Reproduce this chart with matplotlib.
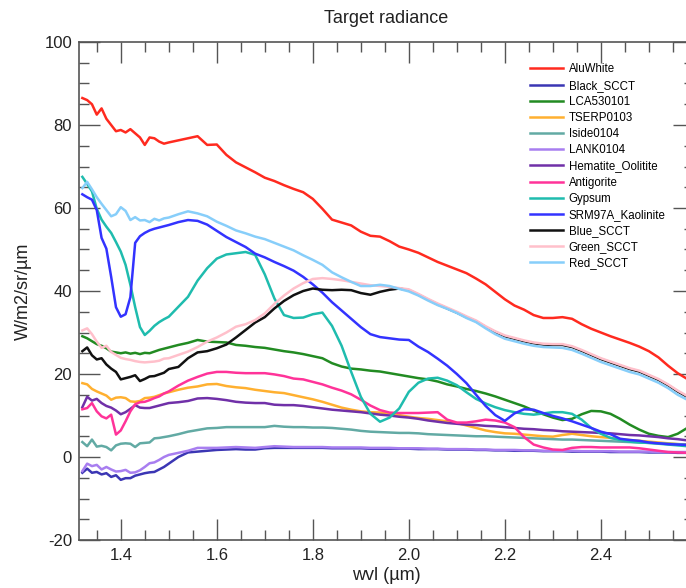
import numpy as np
import matplotlib
matplotlib.use("Agg")
import matplotlib.pyplot as plt
from matplotlib.ticker import MultipleLocator

plt.rcParams['font.family'] = ['Liberation Sans', 'DejaVu Sans']
plt.rcParams['axes.unicode_minus'] = False

# wavelength grid (um)
wvl = np.round(np.concatenate([np.arange(1.32, 1.505, 0.01),
                               np.arange(1.52, 2.565, 0.02),
                               [2.58]]), 3)

alu_white = [86.5, 86.0, 85.0, 82.5, 84.0, 81.5, 80.0, 78.5, 78.8, 78.2, 79.0, 78.0, 77.0, 75.2, 77.0, 76.8, 76.0, 75.5, 75.8,
             76.3, 76.8, 77.3, 75.2, 75.3, 72.8, 71.0, 69.8, 68.6, 67.3,
             66.5, 65.5, 64.6, 63.8, 62.2, 59.8, 57.2, 56.5, 55.8, 54.3,
             53.3, 53.1, 52.0, 50.7, 50.0, 49.2, 48.1, 47.0, 46.1, 45.2,
             44.3, 43.0, 41.6, 39.8, 38.0, 36.5, 35.5, 34.2, 33.5, 33.5,
             33.7, 33.3, 32.0, 30.9, 30.0, 29.1, 28.3, 27.5, 26.6, 25.5,
             24.0, 22.0, 20.2, 18.8]

black_scct = [-3.8, -2.8, -3.8, -3.6, -4.2, -3.9, -4.8, -4.4, -5.5, -5.1, -5.1, -4.5, -4.2, -3.9, -3.7, -3.6, -3.0, -2.4, -1.6,
              0.0, 1.1, 1.3, 1.5, 1.7, 1.8, 1.9, 1.8, 1.8, 2.1,
              2.2, 2.2, 2.2, 2.2, 2.2, 2.2, 2.1, 2.1, 2.1, 2.1,
              2.0, 2.0, 2.0, 2.0, 2.0, 1.9, 1.9, 1.9, 1.8, 1.8,
              1.8, 1.7, 1.7, 1.6, 1.6, 1.5, 1.5, 1.5, 1.4, 1.4,
              1.4, 1.3, 1.3, 1.3, 1.3, 1.2, 1.2, 1.2, 1.2, 1.1,
              1.1, 1.1, 1.0, 1.0]

lca530101 = [29.1, 28.6, 27.9, 27.2, 26.8, 26.2, 25.4, 25.2, 25.0, 25.2, 24.9, 25.1, 24.8, 25.1, 25.0, 25.4, 25.8, 26.1, 26.4,
             27.0, 27.5, 28.2, 27.8, 27.7, 27.6, 27.0, 26.8, 26.5, 26.3,
             25.9, 25.5, 25.2, 24.8, 24.3, 23.8, 22.6, 21.8, 21.3, 21.1,
             20.8, 20.6, 20.2, 19.8, 19.4, 19.0, 18.7, 18.2, 17.5, 17.0,
             16.4, 15.9, 15.3, 14.6, 13.8, 13.0, 12.2, 11.2, 10.3, 9.5,
             8.9, 9.2, 10.3, 11.1, 11.0, 10.4, 9.2, 7.8, 6.6, 5.6,
             5.1, 4.8, 5.6, 7.0]

tserp0103 = [17.8, 17.5, 16.4, 15.8, 15.3, 14.8, 13.8, 14.3, 14.4, 14.2, 13.4, 13.3, 13.5, 14.2, 14.3, 14.5, 14.9, 15.3, 15.6,
             16.2, 16.7, 17.0, 17.5, 17.6, 17.1, 16.8, 16.6, 16.2, 15.9,
             15.6, 15.4, 14.9, 14.4, 13.9, 13.3, 12.6, 11.9, 11.4, 11.0,
             10.8, 10.7, 10.5, 10.1, 9.7, 9.4, 9.2, 8.9, 8.6, 8.2,
             7.6, 7.0, 6.4, 6.0, 5.7, 5.6, 5.4, 5.2, 5.0, 4.9,
             5.3, 5.6, 5.3, 5.0, 4.8, 4.6, 4.3, 4.1, 3.9, 3.7,
             3.5, 3.3, 3.1, 3.0]

iside0104 = [3.6, 2.6, 4.2, 2.5, 2.7, 2.4, 1.6, 2.8, 3.2, 3.3, 3.2, 2.4, 3.3, 3.4, 3.5, 4.5, 4.6, 4.8, 5.0,
             5.5, 6.1, 6.5, 6.9, 7.0, 7.2, 7.2, 7.2, 7.2, 7.2,
             7.5, 7.3, 7.2, 7.2, 7.1, 7.1, 7.0, 6.8, 6.6, 6.3,
             6.1, 6.0, 5.9, 5.8, 5.8, 5.7, 5.5, 5.4, 5.3, 5.2,
             5.1, 5.0, 5.0, 4.9, 4.8, 4.7, 4.6, 4.5, 4.4, 4.3,
             4.2, 4.2, 4.1, 4.0, 3.9, 3.8, 3.7, 3.6, 3.5, 3.4,
             3.3, 3.2, 3.1, 3.0]

lank0104 = [-3.4, -1.6, -2.2, -1.9, -3.0, -2.4, -3.0, -3.5, -3.4, -3.1, -3.8, -3.7, -3.2, -2.4, -1.5, -1.3, -0.7, 0.0, 0.5,
            1.0, 1.5, 2.2, 2.2, 2.2, 2.3, 2.4, 2.3, 2.2, 2.4,
            2.6, 2.5, 2.4, 2.4, 2.4, 2.4, 2.3, 2.3, 2.3, 2.3,
            2.2, 2.2, 2.2, 2.1, 2.1, 2.1, 2.0, 2.0, 1.9, 1.9,
            1.9, 1.8, 1.8, 1.7, 1.7, 1.7, 1.6, 1.6, 1.5, 1.5,
            1.5, 1.5, 1.4, 1.4, 1.4, 1.4, 1.3, 1.3, 1.3, 1.3,
            1.2, 1.2, 1.2, 1.2]

hematite_oolitite = [12.0, 14.5, 13.6, 14.0, 13.0, 12.3, 11.9, 11.2, 10.3, 10.8, 11.6, 12.5, 11.9, 11.8, 11.8, 12.1, 12.4, 12.7, 13.0,
                     13.2, 13.5, 14.1, 14.2, 14.0, 13.7, 13.3, 13.1, 13.0, 13.0,
                     12.6, 12.5, 12.5, 12.3, 12.0, 11.7, 11.4, 11.2, 11.0, 10.8,
                     10.5, 10.2, 10.0, 9.7, 9.5, 9.2, 8.8, 8.5, 8.2, 8.0,
                     7.8, 7.7, 7.5, 7.4, 7.2, 7.0, 6.8, 6.7, 6.5, 6.4,
                     6.2, 6.1, 6.0, 5.9, 5.8, 5.7, 5.5, 5.3, 5.2, 5.0,
                     4.8, 4.5, 4.3, 4.0]

antigorite = [11.5, 11.8, 13.0, 11.0, 9.8, 9.3, 10.2, 5.4, 6.4, 8.6, 11.0, 12.7, 13.2, 13.3, 13.7, 14.2, 14.6, 15.3, 15.8,
              17.2, 18.4, 19.3, 20.1, 20.5, 20.5, 20.3, 20.2, 20.2, 20.2,
              19.9, 19.5, 18.9, 18.7, 18.1, 17.5, 16.7, 16.0, 15.1, 13.8,
              12.4, 11.3, 10.7, 10.6, 10.6, 10.6, 10.7, 10.8, 9.0, 8.3,
              8.3, 8.6, 9.0, 8.8, 8.3, 7.2, 4.8, 3.0, 2.3, 1.8,
              1.7, 2.2, 2.4, 2.4, 2.3, 2.3, 2.3, 2.3, 2.1, 1.8,
              1.5, 1.2, 1.1, 1.0]

gypsum = [67.5, 65.8, 64.0, 59.8, 57.2, 55.5, 54.0, 51.8, 49.5, 46.3, 41.5, 36.1, 31.3, 29.4, 30.4, 31.6, 32.5, 33.2, 33.8,
          36.2, 38.6, 42.5, 45.5, 47.8, 48.8, 49.1, 49.4, 48.7, 44.0,
          38.2, 34.2, 33.5, 33.6, 34.4, 34.8, 31.6, 26.8, 20.5, 14.5,
          10.4, 8.5, 9.5, 11.7, 15.7, 17.9, 18.9, 19.1, 18.4, 17.3,
          15.6, 14.0, 12.9, 12.0, 11.3, 10.8, 10.4, 10.2, 10.5, 10.8,
          10.8, 10.4, 9.0, 7.0, 5.6, 4.6, 4.1, 3.7, 3.5, 3.4,
          3.2, 3.0, 2.8, 2.6]

srm97a_kaolinite = [63.3, 62.6, 62.0, 59.5, 52.8, 50.2, 43.4, 36.1, 33.8, 34.4, 38.5, 51.6, 53.2, 54.0, 54.6, 55.0, 55.3, 55.6, 55.9,
                    56.6, 57.1, 56.9, 56.0, 54.5, 53.0, 51.8, 50.6, 49.0, 48.1,
                    47.0, 46.0, 44.9, 43.4, 41.6, 39.6, 37.3, 35.3, 33.3, 31.3,
                    29.6, 28.9, 28.6, 28.3, 28.2, 26.6, 25.3, 23.7, 22.0, 20.0,
                    17.8, 15.0, 12.3, 10.1, 8.7, 10.5, 11.5, 11.4, 10.6, 9.9,
                    9.3, 8.6, 7.8, 7.0, 6.1, 5.5, 4.4, 4.1, 3.9, 3.5,
                    3.3, 3.1, 3.0, 2.9]

blue_scct = [25.5, 26.4, 24.5, 23.5, 23.8, 22.3, 21.3, 20.5, 18.7, 19.0, 19.3, 19.7, 18.3, 18.8, 19.4, 19.5, 19.9, 20.3, 21.2,
             21.7, 23.8, 25.2, 25.5, 26.2, 27.1, 28.8, 30.6, 32.4, 33.7,
             35.8, 37.6, 39.0, 40.0, 40.6, 40.3, 40.2, 40.3, 40.2, 39.5,
             39.1, 39.8, 40.3, 40.6, 40.2, 39.1, 37.9, 36.8, 35.8, 34.8,
             33.7, 32.7, 31.3, 30.1, 29.1, 28.5, 27.9, 27.4, 27.1, 27.0,
             27.0, 26.5, 25.6, 24.6, 23.6, 22.8, 22.0, 21.2, 20.6, 19.6,
             18.6, 17.3, 15.8, 14.5]

green_scct = [30.5, 31.0, 29.6, 27.8, 26.3, 26.8, 25.3, 24.6, 23.9, 23.6, 23.4, 23.1, 22.9, 22.8, 22.9, 23.0, 23.2, 23.7, 23.8,
              24.6, 25.4, 26.5, 27.8, 28.8, 30.0, 31.4, 32.0, 33.0, 34.6,
              36.9, 38.9, 40.6, 41.9, 42.9, 43.1, 42.9, 42.6, 42.2, 41.8,
              41.4, 41.2, 41.0, 40.7, 40.4, 39.3, 38.1, 37.0, 36.0, 35.0,
              33.9, 32.9, 31.5, 30.3, 29.3, 28.7, 28.1, 27.6, 27.3, 27.2,
              27.2, 26.7, 25.8, 24.8, 23.8, 23.0, 22.2, 21.4, 20.8, 19.8,
              18.8, 17.5, 16.0, 14.7]

red_scct = [64.8, 66.3, 64.5, 62.6, 61.0, 59.5, 58.0, 58.5, 60.2, 59.3, 57.1, 57.8, 57.0, 57.1, 56.6, 57.4, 57.0, 57.5, 57.7,
            58.5, 59.2, 58.7, 58.0, 56.7, 55.7, 54.6, 53.9, 53.1, 52.5,
            51.6, 50.7, 49.8, 48.6, 47.5, 46.3, 44.5, 43.3, 42.2, 41.2,
            41.2, 41.5, 41.2, 40.5, 39.9, 38.9, 37.7, 36.6, 35.7, 34.7,
            33.5, 32.5, 31.0, 29.6, 28.5, 27.9, 27.3, 26.8, 26.5, 26.4,
            26.3, 25.8, 24.9, 23.9, 22.9, 22.1, 21.3, 20.5, 19.9, 18.9,
            17.9, 16.6, 15.0, 13.8]

names = ["AluWhite", "Black_SCCT", "LCA530101", "TSERP0103", "Iside0104", "LANK0104",
         "Hematite_Oolitite", "Antigorite", "Gypsum", "SRM97A_Kaolinite",
         "Blue_SCCT", "Green_SCCT", "Red_SCCT"]
series = [alu_white, black_scct, lca530101, tserp0103, iside0104, lank0104,
          hematite_oolitite, antigorite, gypsum, srm97a_kaolinite,
          blue_scct, green_scct, red_scct]
colors = ["#ff2a1f", "#3b36b4", "#228b22", "#ffb030", "#62aaa4", "#a87ef0",
          "#7030a8", "#ff3399", "#1fbcae", "#3333ff",
          "#111111", "#ffc0cb", "#87cefa"]

fig = plt.figure(figsize=(6.86, 5.88), dpi=100)
ax = fig.add_axes([79/686, 48/588, 615/686, 498/588])

for name, vals, c in zip(names, series, colors):
    ax.plot(wvl, vals, color=c, lw=1.8, label=name)

ax.set_xlim(1.313, 2.594)
ax.set_ylim(-20, 100)
ax.xaxis.set_major_locator(MultipleLocator(0.2))
ax.xaxis.set_minor_locator(MultipleLocator(0.05))
ax.yaxis.set_major_locator(MultipleLocator(20))
ax.yaxis.set_minor_locator(MultipleLocator(5))
ax.xaxis.set_major_formatter(matplotlib.ticker.FormatStrFormatter('%.1f'))
ax.tick_params(which='both', direction='in', top=True, right=True,
               color='#555555', width=1.0, labelsize=12, labelcolor='#222222')
ax.tick_params(which='major', length=15)
ax.tick_params(which='minor', length=7.5)
ax.tick_params(axis='x', which='major', pad=6)
ax.tick_params(axis='y', which='major', pad=5)
for sp in ax.spines.values():
    sp.set_color('#555555')
    sp.set_linewidth(1.2)

ax.set_title("Target radiance", fontsize=13, pad=14, color='#222222')
ax.set_xlabel("wvl (\u00b5m)", fontsize=13, labelpad=3, color='#222222')
ax.set_ylabel("W/m2/sr/\u00b5m", fontsize=13, labelpad=9, color='#222222')

leg = ax.legend(loc='upper left', bbox_to_anchor=(530/686, 1 - 63.5/588),
                bbox_transform=fig.transFigure, frameon=False, fontsize=8.3,
                handlelength=2.9, handletextpad=0.45, labelspacing=0.36,
                borderpad=0, borderaxespad=0)

fig.savefig("out.png", dpi=100)
